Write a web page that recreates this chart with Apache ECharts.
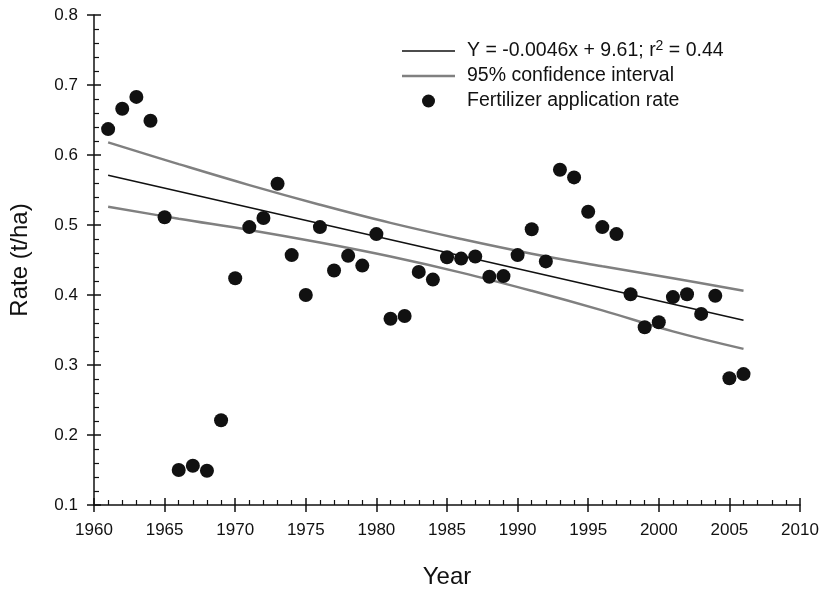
<!DOCTYPE html>
<html>
<head>
<meta charset="utf-8">
<script src="https://cdn.jsdelivr.net/npm/echarts@6/dist/echarts.min.js"></script>
<style>
  html, body { margin: 0; padding: 0; background: #fff; }
  #main { width: 825px; height: 589px; }
</style>
</head>
<body>
<div id="main"></div>
<script>
var chart = echarts.init(document.getElementById('main'));

// fertilizer application rate by year
var years = [1961, 1962, 1963, 1964, 1965, 1966, 1967, 1968, 1969, 1970,
             1971, 1972, 1973, 1974, 1975, 1976, 1977, 1978, 1979, 1980,
             1981, 1982, 1983, 1984, 1985, 1986, 1987, 1988, 1989, 1990,
             1991, 1992, 1993, 1994, 1995, 1996, 1997, 1998, 1999, 2000,
             2001, 2002, 2003, 2004, 2005, 2006];
var rates = [0.637, 0.666, 0.683, 0.649, 0.511, 0.150, 0.156, 0.149, 0.221, 0.424,
             0.497, 0.510, 0.559, 0.457, 0.400, 0.497, 0.435, 0.456, 0.442, 0.487,
             0.366, 0.370, 0.433, 0.422, 0.454, 0.452, 0.455, 0.426, 0.427, 0.457,
             0.494, 0.448, 0.579, 0.568, 0.519, 0.497, 0.487, 0.401, 0.354, 0.361,
             0.397, 0.401, 0.373, 0.399, 0.281, 0.287];

// regression line end points
var fitYears = [1961, 2006];
var fitValues = [0.571, 0.364];

// 95% confidence band, read at a few years
var ciYears = [1961, 1966, 1971, 1976, 1981, 1986, 1991, 1996, 2001, 2006];
var ciUpper = [0.618, 0.587, 0.557, 0.529, 0.503, 0.480, 0.459, 0.441, 0.424, 0.406];
var ciLower = [0.526, 0.509, 0.493, 0.475, 0.455, 0.432, 0.406, 0.378, 0.348, 0.323];

var xTicks = { min: 1960, max: 2010, interval: 5 };
var yTicks = { min: 0.1, max: 0.8, interval: 0.1 };

var fitName = 'fit';
var ciName = '95% confidence interval';
var ptName = 'Fertilizer application rate';

function pairs(xs, ys) {
    return xs.map(function (x, i) { return [x, ys[i]]; });
}

var font = 'Liberation Sans, Arial, sans-serif';
var ink = '#111';

option = {
    animation: false,
    grid: { left: 94, right: 25, top: 15, bottom: 84, outerBoundsMode: 'none' },
    legend: {
        left: 402,
        top: 39,
        padding: 0,
        orient: 'vertical',
        itemWidth: 53,
        itemHeight: 13,
        itemGap: 5,
        data: [
            { name: fitName, icon: 'path://M0,0 L100,0 L100,3 L0,3 Z', itemStyle: { color: ink } },
            { name: ciName, icon: 'path://M0,0 L100,0 L100,4.5 L0,4.5 Z', itemStyle: { color: '#808080' } },
            { name: ptName, icon: 'circle', itemStyle: { color: ink } }
        ],
        textStyle: {
            fontFamily: font,
            fontSize: 19.5,
            color: ink,
            lineHeight: 20,
            padding: [0, 0, 0, 7],
            rich: {
                sup: { fontFamily: font, fontSize: 14, color: ink, padding: [0, 0, 10, 0] }
            }
        },
        formatter: function (name) {
            if (name === fitName) {
                return 'Y = -0.0046x + 9.61; r{sup|2} = 0.44';
            }
            return name;
        }
    },
    xAxis: [{
        type: 'value',
        min: xTicks.min, max: xTicks.max, interval: xTicks.interval,
        name: 'Year',
        nameLocation: 'middle',
        nameGap: 60,
        nameTextStyle: { fontFamily: font, fontSize: 24, color: ink },
        axisLine: { show: true, lineStyle: { color: ink, width: 1.5 } },
        axisTick: { show: true, inside: true, length: 7, lineStyle: { color: ink, width: 1.5 } },
        minorTick: { show: true, splitNumber: 5, length: 5, lineStyle: { color: ink, width: 1.2 } },
        axisLabel: {
            fontFamily: font, fontSize: 17, color: ink, margin: 17,
            formatter: function (v) { return String(v); }
        },
        splitLine: { show: false }
    }, {
        type: 'value',
        min: xTicks.min, max: xTicks.max, interval: xTicks.interval,
        position: 'bottom',
        axisLine: { show: false },
        axisTick: { show: true, inside: false, length: 7, lineStyle: { color: ink, width: 1.5 } },
        axisLabel: { show: false },
        splitLine: { show: false }
    }],
    yAxis: [{
        type: 'value',
        min: yTicks.min, max: yTicks.max, interval: yTicks.interval,
        name: 'Rate (t/ha)',
        nameLocation: 'middle',
        nameGap: 62,
        nameTextStyle: { fontFamily: font, fontSize: 24, color: ink },
        axisLine: { show: true, lineStyle: { color: ink, width: 1.5 } },
        axisTick: { show: true, inside: true, length: 7, lineStyle: { color: ink, width: 1.5 } },
        minorTick: { show: true, splitNumber: 5, length: 5, lineStyle: { color: ink, width: 1.2 } },
        axisLabel: {
            fontFamily: font, fontSize: 17, color: ink, margin: 16,
            formatter: function (v) { return v.toFixed(1); }
        },
        splitLine: { show: false }
    }, {
        type: 'value',
        min: yTicks.min, max: yTicks.max, interval: yTicks.interval,
        position: 'left',
        axisLine: { show: false },
        axisTick: { show: true, inside: false, length: 7, lineStyle: { color: ink, width: 1.5 } },
        axisLabel: { show: false },
        splitLine: { show: false }
    }],
    series: [{
        name: fitName,
        type: 'line',
        symbol: 'none',
        lineStyle: { color: ink, width: 1.6 },
        itemStyle: { color: ink },
        data: pairs(fitYears, fitValues),
        z: 3
    }, {
        name: ciName,
        type: 'line',
        symbol: 'none',
        smooth: 0.4,
        lineStyle: { color: '#808080', width: 2.5 },
        itemStyle: { color: '#808080' },
        data: pairs(ciYears, ciUpper),
        z: 2
    }, {
        name: ciName,
        type: 'line',
        symbol: 'none',
        smooth: 0.4,
        lineStyle: { color: '#808080', width: 2.5 },
        itemStyle: { color: '#808080' },
        data: pairs(ciYears, ciLower),
        z: 2
    }, {
        name: ptName,
        type: 'scatter',
        symbol: 'circle',
        symbolSize: 14,
        itemStyle: { color: ink, opacity: 1 },
        data: pairs(years, rates),
        z: 4
    }]
};

chart.setOption(option);
</script>
</body>
</html>
